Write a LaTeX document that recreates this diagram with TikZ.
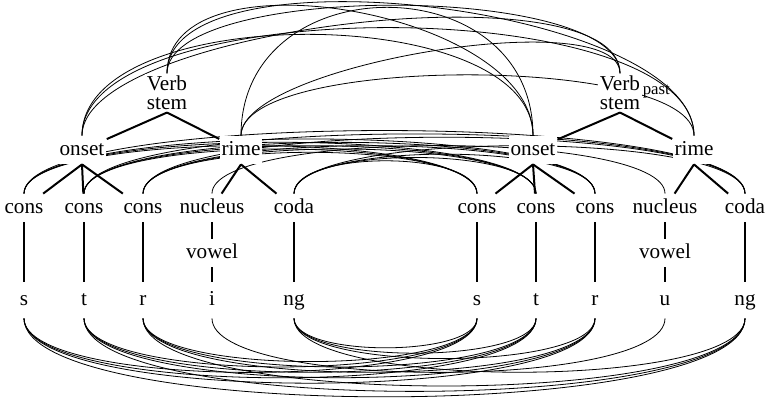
\documentclass[tikz,border=0pt]{standalone}
\usepackage{fontspec}
\setmainfont{Liberation Serif}
\usetikzlibrary{backgrounds}

\newcommand{\lowsub}[1]{\raisebox{-2.2pt}{\fontsize{8.4pt}{9pt}\selectfont\,#1}}

\tikzset{
  every node/.style={font=\fontsize{10.6pt}{12.7pt}\selectfont},
  lab/.style={fill=white, inner xsep=1pt, inner ysep=0pt,
    text height=1.5ex, text depth=.25ex, minimum height=14pt},
  seg/.style={lab, minimum height=18pt},
  stem/.style={fill=white, align=center, inner xsep=1pt, inner ysep=1pt},
  branch/.style={line width=1pt},
  link/.style={line width=0.7pt},
}

\begin{document}
\begin{tikzpicture}[x=0.5pt, y=0.5pt]
\useasboundingbox (0,0) rectangle (772,405);

% stems and syllable parts
\node[stem] (vsL) at (167,312) {Verb\\[-3pt]stem};
\node[stem] (vsR) at (620,312) {Verb\rlap{\lowsub{past}}\\[-3pt]stem};
\foreach \name/\x/\txt in {onL/82/onset, riL/241/rime, onR/533/onset, riR/694/rime}
  \node[lab] (\name) at (\x,255) {\txt};

% slots, vowels and segments
\foreach \name/\x/\txt in {c1L/24/cons, c2L/84/cons, c3L/143/cons, nuL/212/nucleus, coL/294/coda,
                          c1R/477/cons, c2R/536/cons, c3R/595/cons, nuR/665/nucleus, coR/745/coda}
  \node[lab] (\name) at (\x,197) {\txt};
\node[lab] (voL) at (212,152) {vowel};
\node[lab] (voR) at (665,152) {vowel};
\foreach \name/\x/\txt in {sL/24/s, tL/84/t, rL/143/r, iL/212/i, ngL/294/ng,
                          sR/477/s, tR/536/t, rR/595/r, uR/665/u, ngR/745/ng}
  \node[seg] (\name) at (\x,105) {\txt};

% trees
\foreach \p/\c in {vsL/onL, vsL/riL, onL/c1L, onL/c2L, onL/c3L, riL/nuL, riL/coL,
                   vsR/onR, vsR/riR, onR/c1R, onR/c2R, onR/c3R, riR/nuR, riR/coR}
  \draw[branch] (\p.south) -- (\c);
\foreach \p/\c in {c1L/sL, c2L/tL, c3L/rL, nuL/voL, voL/iL, coL/ngL,
                   c1R/sR, c2R/tR, c3R/rR, nuR/voR, voR/uR, coR/ngR}
  \draw[branch] (\p) -- (\c);

% correspondence links, behind the labels
\begin{scope}[on background layer, link]
  % stems, onsets, rimes
  \foreach \a/\b/\lift in {vsL/vsR/91, vsL/onR/125, vsL/riR/130, onL/vsR/108, onL/onR/135,
                           onL/riR/144, riL/vsR/71, riL/onR/171, riL/riR/81}
    \draw (\a.north) .. controls +(0,\lift) and +(0,\lift) .. (\b.north);
  % consonant slots, then the nuclei
  \foreach \a/\xa in {c1L/24, c2L/84, c3L/143, coL/294}
    \foreach \b/\xb in {c1R/477, c2R/536, c3R/595, coR/745} {
      \pgfmathsetmacro\lift{30+0.075*(\xb-\xa)}
      \draw (\a.north) .. controls +(0,\lift) and +(0,\lift) .. (\b.north);
    }
  \draw (nuL.north) .. controls +(0,64) and +(0,64) .. (nuR.north);
  % consonants, then the vowels
  \foreach \a/\xa in {sL/24, tL/84, rL/143, ngL/294}
    \foreach \b/\xb in {sR/477, tR/536, rR/595, ngR/745} {
      \pgfmathsetmacro\lift{17+0.1215*(\xb-\xa)}
      \draw (\a.south) .. controls +(0,-\lift) and +(0,-\lift) .. (\b.south);
    }
  \draw (iL.south) .. controls +(0,-72) and +(0,-72) .. (uR.south);
\end{scope}
\end{tikzpicture}
\end{document}
